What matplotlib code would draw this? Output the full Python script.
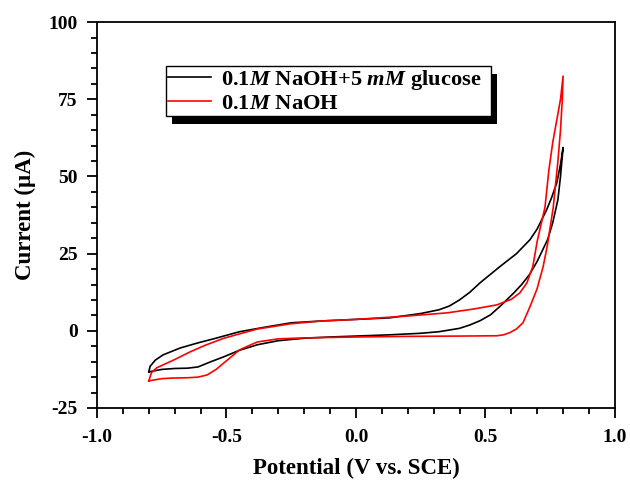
import numpy as np
import matplotlib
matplotlib.use("Agg")
import matplotlib.pyplot as plt
from matplotlib.patches import Rectangle
from matplotlib.transforms import IdentityTransform
from matplotlib.ticker import MultipleLocator

plt.rcParams['font.family'] = ['Liberation Serif', 'DejaVu Serif']
plt.rcParams['font.weight'] = 'bold'
plt.rcParams['mathtext.fontset'] = 'custom'
plt.rcParams['mathtext.rm'] = 'Liberation Serif:bold'
plt.rcParams['mathtext.it'] = 'Liberation Serif:italic:bold'
plt.rcParams['mathtext.bf'] = 'Liberation Serif:bold'

# glucose CV: forward (lower) branch, then reverse (upper) branch
glu_fwd_x = [-0.80, -0.75, -0.70, -0.65, -0.61, -0.56, -0.51, -0.45, -0.38, -0.30,
             -0.20, -0.10, 0.00, 0.13, 0.25, 0.32, 0.40, 0.44, 0.48, 0.52,
             0.56, 0.61, 0.64, 0.67, 0.70, 0.74, 0.76, 0.78, 0.79, 0.80]
glu_fwd_y = [-13.3, -12.5, -12.2, -12.1, -11.7, -10.0, -8.4, -6.3, -4.5, -3.2,
             -2.4, -2.0, -1.7, -1.3, -0.8, -0.3, 0.8, 1.9, 3.3, 5.2,
             8.2, 12.3, 15.0, 18.2, 22.5, 29.5, 35.0, 42.5, 50.0, 59.4]
glu_rev_x = [0.80, 0.79, 0.776, 0.755, 0.737, 0.70, 0.672, 0.62, 0.556, 0.48,
             0.44, 0.40, 0.36, 0.32, 0.25, 0.13, 0.00, -0.13, -0.25, -0.35,
             -0.45, -0.55, -0.61, -0.68, -0.745, -0.775, -0.795, -0.80]
glu_rev_y = [59.4, 54.0, 48.0, 43.0, 39.3, 33.0, 29.5, 25.0, 20.8, 15.6,
             12.5, 10.0, 8.0, 6.8, 5.6, 4.2, 3.7, 3.2, 2.6, 1.2,
             -0.3, -2.6, -3.9, -5.6, -7.8, -9.5, -11.5, -13.3]

# blank NaOH CV
naoh_fwd_x = [-0.80, -0.75, -0.71, -0.65, -0.61, -0.575, -0.54, -0.51, -0.45, -0.40,
              -0.38, -0.30, -0.20, 0.00, 0.20, 0.40, 0.544, 0.57, 0.594, 0.62,
              0.645, 0.672, 0.699, 0.723, 0.74, 0.762, 0.78, 0.79, 0.797, 0.80]
naoh_fwd_y = [-16.2, -15.5, -15.3, -15.2, -15.0, -14.3, -12.5, -10.4, -6.2, -4.3,
              -3.6, -2.6, -2.3, -2.0, -1.8, -1.7, -1.6, -1.3, -0.6, 0.6,
              2.6, 7.8, 13.5, 20.8, 28.0, 40.0, 55.0, 65.0, 75.0, 82.5]
naoh_rev_x = [0.80, 0.79, 0.775, 0.76, 0.745, 0.73, 0.70, 0.683, 0.66, 0.633,
              0.60, 0.544, 0.45, 0.35, 0.20, 0.00, -0.13, -0.25, -0.38, -0.45,
              -0.51, -0.58, -0.64, -0.70, -0.77, -0.79, -0.80]
naoh_rev_y = [82.5, 75.0, 68.0, 61.0, 52.0, 40.0, 29.0, 20.8, 15.5, 12.3,
              10.2, 8.4, 7.0, 5.8, 4.8, 3.7, 3.2, 2.3, 0.6, -1.0,
              -2.4, -4.6, -6.8, -9.3, -12.0, -13.6, -16.2]

x_ticks = [-1.0, -0.5, 0.0, 0.5, 1.0]
x_tick_labels = ['-1.0', '-0.5', '0.0', '0.5', '1.0']
y_ticks = [-25, 0, 25, 50, 75, 100]
y_tick_labels = ['-25', '0', '25', '50', '75', '100']

fig = plt.figure(figsize=(6.3, 4.8), dpi=100)
ax = fig.add_axes([0.154, 0.15, 0.822, 0.804])

ax.plot(glu_fwd_x + glu_rev_x, glu_fwd_y + glu_rev_y, color='black', lw=1.2,
        label=r'0.1$\it{M}$ NaOH+5 $\it{mM}$ glucose')
ax.plot(naoh_fwd_x + naoh_rev_x, naoh_fwd_y + naoh_rev_y, color='red', lw=1.2,
        label=r'0.1$\it{M}$ NaOH')

ax.set_xlim(-1.0, 1.0)
ax.set_ylim(-25, 100)
ax.set_xticks(x_ticks)
ax.set_xticklabels(x_tick_labels)
ax.set_yticks(y_ticks)
ax.set_yticklabels(y_tick_labels)
ax.xaxis.set_minor_locator(MultipleLocator(0.1))
ax.yaxis.set_minor_locator(MultipleLocator(5))
ax.tick_params(which='both', direction='out', width=1.3, labelsize=14)
ax.tick_params(which='major', length=7)
ax.tick_params(which='minor', length=4)
ax.tick_params(axis='x', which='major', pad=8)
ax.tick_params(axis='y', which='major', pad=7)
for s in ax.spines.values():
    s.set_linewidth(1.3)

ax.set_xlabel('Potential (V vs. SCE)', fontsize=16.5, fontweight='bold', labelpad=9)
ax.set_ylabel('Current (\u00b5A)', fontsize=16.5, fontweight='bold', labelpad=9)

# legend stretched to the reference box width
leg = ax.legend(loc='upper left', bbox_to_anchor=(0.133, 0.886, 0.627, 0.0), mode='expand',
                borderaxespad=0, fancybox=False, edgecolor='black', framealpha=1,
                fontsize=16.2, handlelength=1.9, handletextpad=0.45, borderpad=0.1,
                labelspacing=0.05)
leg.get_frame().set_linewidth(1.0)
leg.set_zorder(6)

# solid offset shadow behind the legend box
fig.canvas.draw()
bb = leg.get_window_extent()
shadow = Rectangle((bb.x0 + 6, bb.y0 - 8), bb.width, bb.height, transform=IdentityTransform(),
                   facecolor='black', edgecolor='none', zorder=5.5, clip_on=False)
ax.add_artist(shadow)

fig.savefig('out.png', dpi=100)
